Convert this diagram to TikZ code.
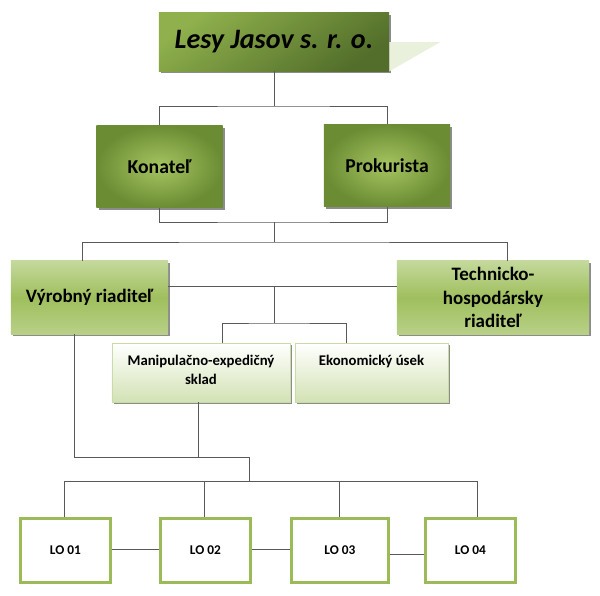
\documentclass[tikz,border=0pt]{standalone}
\usepackage{fontspec}
\setmainfont{Carlito}
\usetikzlibrary{shadows}
\definecolor{headlight}{HTML}{8FB04C}
\definecolor{headdark}{HTML}{526E2A}
\definecolor{boardin}{HTML}{A5C561}
\definecolor{boardout}{HTML}{6C8C34}
\definecolor{mgrtop}{HTML}{C4D99C}
\definecolor{mgrmid}{HTML}{9FBF5D}
\definecolor{mgrbot}{HTML}{B8D087}
\definecolor{unitbot}{HTML}{D3E2B4}
\definecolor{unitline}{HTML}{C9DBA6}
\definecolor{lobox}{HTML}{9BBB59}
\definecolor{wedge}{HTML}{E9F1DD}
\definecolor{wire}{HTML}{595959}
\begin{document}
\begin{tikzpicture}[x=0.025cm,y=-0.025cm,
  every node/.style={inner sep=2pt, align=center, text=black},
  shadowed/.style={drop shadow={shadow xshift=1.5pt, shadow yshift=-1.5pt, fill=black, opacity=.45}},
  headbox/.style={shadowed, top color=headlight, bottom color=headdark, shading angle=35,
    minimum width=5.75cm, minimum height=1.45cm, font=\fontsize{20}{24}\selectfont\bfseries\itshape},
  boardbox/.style={shadowed, inner color=boardin, outer color=boardout,
    minimum width=3.15cm, minimum height=2.05cm, font=\fontsize{14}{17}\selectfont\bfseries},
  mgrbox/.style={shadowed, top color=mgrtop, bottom color=mgrbot, middle color=mgrmid,
    minimum height=1.825cm, font=\fontsize{13.5}{16.5}\selectfont\bfseries},
  unitbox/.style={shadowed, draw=unitline, line width=.4pt, top color=white, bottom color=unitbot,
    minimum height=1.475cm, text depth=9pt, font=\fontsize{10.5}{13.5}\selectfont\bfseries},
  lobox/.style={draw=lobox, line width=2.2pt, fill=white,
    minimum height=1.6cm, font=\fontsize{9.5}{11}\selectfont\bfseries},
  wires/.style={draw=wire, line width=.6pt}]
  \useasboundingbox [fill=white] (0,0) rectangle (600,595);

  % top of the company
  \node [headbox] (firm) at (274,42) {Lesy Jasov s. r. o.};
  \fill [wedge] (firm.east) -- ++(51,0) -- (firm.south east) -- cycle;
  \node [boardbox] (konatel) at (159.5,166.5) {Konateľ};
  \node [boardbox] (prokurista) at (387,165.5) {Prokurista};

  % directors and their units
  \node [mgrbox, minimum width=3.925cm] (vyroba) at (89.5,297.5) {Výrobný riaditeľ};
  \node [mgrbox, minimum width=4.8cm] (technika) at (493,297.5) {Technicko-\\hospodársky\\riaditeľ};
  \node [unitbox, minimum width=4.45cm, text depth=4pt] (sklad) at (201,372.5) {Manipulačno-expedičný\\sklad};
  \node [unitbox, minimum width=3.825cm, text depth=17pt] (ekonom) at (371.5,372.5) {Ekonomický úsek};

  % LO nodes
  \node [lobox, minimum width=2.25cm] (lo1) at (65.5,550.5) {LO 01};
  \node [lobox, minimum width=2.25cm] (lo2) at (205.5,550.5) {LO 02};
  \node [lobox, minimum width=2.43cm] (lo3) at (340,550.5) {LO 03};
  \node [lobox, minimum width=2.25cm] (lo4) at (470.5,550.5) {LO 04};

  \coordinate (j1) at (274,106);
  \coordinate (j2) at (274,222);
  \coordinate (j3) at (274,242);
  \coordinate (j4) at (274,286);
  \coordinate (j5) at (274,323);
  \coordinate (j6) at (249,457);
  \coordinate (j7) at (249,481);

  \draw [wires] (firm.south) -- (j1);
  \draw [wires] (konatel.north) |- (j1) -| (prokurista.north);
  \draw [wires] (konatel.south) |- (j2) -| (prokurista.south);
  \draw [wires] (j2) -- (j3);
  \draw [wires] (vyroba.north -| 82,0) |- (j3) -| (technika.north -| 507,0);
  \draw [wires] (vyroba.east |- j4) -- (technika.west |- j4);
  \draw [wires] (j4) -- (j5);
  \draw [wires] (sklad.north -| 222,0) |- (j5) -| (ekonom.north -| 346,0);
  \draw [wires] (vyroba.south -| 74,0) |- (j6);
  \draw [wires] (sklad.south -| 198,0) |- (j6);
  \draw [wires] (j6) -- (j7);
  \draw [wires] (lo1.north -| 64,0) |- (j7) -| (lo4.north -| 477,0);
  \draw [wires] (lo2.north -| 204,0) -- (j7 -| 204,0);
  \draw [wires] (lo3.north -| 339,0) -- (j7 -| 339,0);
  \draw [wires] (lo1.east |- 0,549) -- (lo2.west |- 0,549);
  \draw [wires] (lo2.east |- 0,549) -- (lo3.west |- 0,549);
  \draw [wires] (lo3.east |- 0,554) -- (lo4.west |- 0,554);
\end{tikzpicture}
\end{document}
